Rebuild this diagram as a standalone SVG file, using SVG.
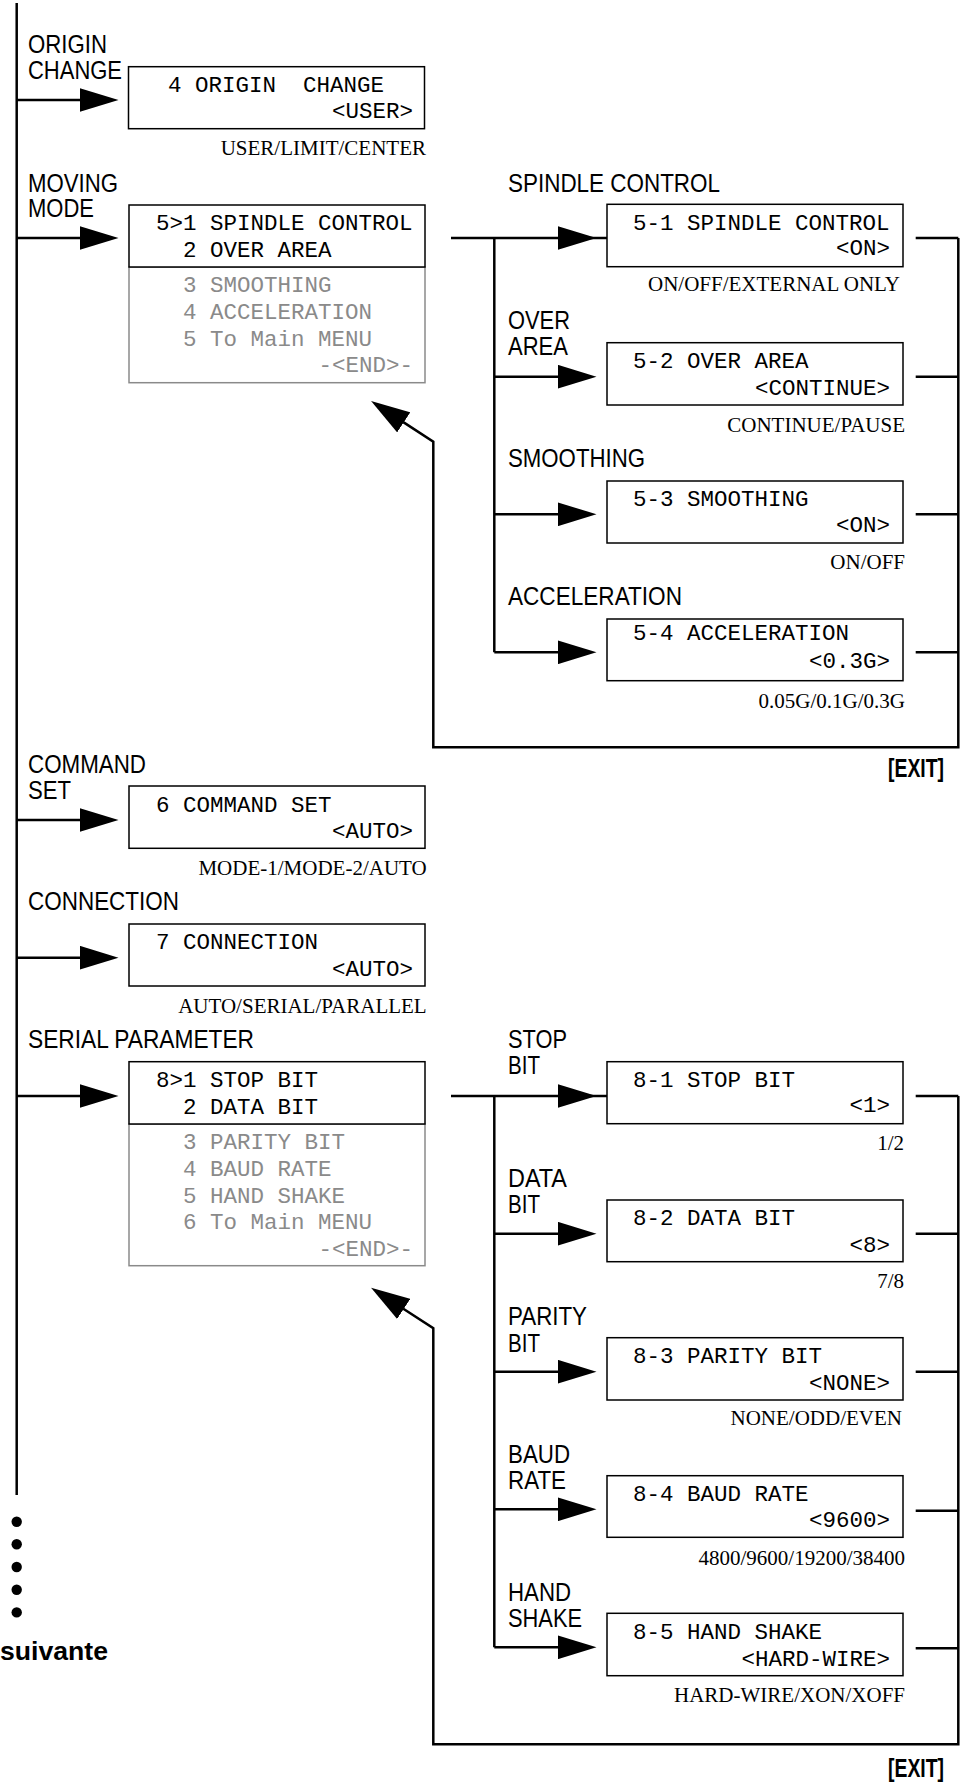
<svg xmlns="http://www.w3.org/2000/svg" width="961" height="1787" viewBox="0 0 961 1787">
<style>
.lbl{font-family:"Liberation Sans",Arial,sans-serif;font-size:25px;fill:#000}
.mono{font-family:"Liberation Mono","Courier New",monospace;font-size:22.5px;fill:#000}
.g{fill:#8a8a8a}
.end{text-anchor:end}
.opt{font-family:"Liberation Serif","Times New Roman",serif;font-size:21px;fill:#000;text-anchor:end}
.exit{font-family:"Liberation Sans",Arial,sans-serif;font-weight:bold;font-size:26px;fill:#000}
.box{fill:#fff;stroke:#000;stroke-width:1.5}
.gbox{fill:#fff;stroke:#8a8a8a;stroke-width:1.5}
.wire{fill:none;stroke:#000;stroke-width:2.5;stroke-linejoin:miter}
.arr{marker-end:url(#ah)}
</style>
<defs>
<marker id="ah" viewBox="0 -12 39 24" markerWidth="39" markerHeight="24" refX="0.5" refY="0" orient="auto" markerUnits="userSpaceOnUse">
<path d="M0,-12 L39,0 L0,12 z" fill="#000"/>
</marker>
</defs>
<rect width="961" height="1787" fill="#fff"/>

<g id="connectors">
<line class="wire" x1="16.7" y1="3" x2="16.7" y2="1495"/>
<line class="wire arr" x1="16.7" y1="100" x2="80" y2="100"/>
<line class="wire arr" x1="16.7" y1="238" x2="80" y2="238"/>
<line class="wire arr" x1="16.7" y1="820" x2="80" y2="820"/>
<line class="wire arr" x1="16.7" y1="957.7" x2="80" y2="957.7"/>
<line class="wire arr" x1="16.7" y1="1096" x2="80" y2="1096"/>

<line class="wire arr" x1="451" y1="238" x2="558" y2="238"/>
<line class="wire" x1="590" y1="238" x2="607" y2="238"/>
<path class="wire" d="M494.3,238 V652.3"/>
<line class="wire arr" x1="494.3" y1="376.7" x2="558" y2="376.7"/>
<line class="wire arr" x1="494.3" y1="514.3" x2="558" y2="514.3"/>
<line class="wire arr" x1="494.3" y1="652.3" x2="558" y2="652.3"/>
<line class="wire" x1="915.7" y1="238" x2="958.3" y2="238"/>
<line class="wire" x1="915.7" y1="376.7" x2="958.3" y2="376.7"/>
<line class="wire" x1="915.7" y1="514.3" x2="958.3" y2="514.3"/>
<line class="wire" x1="915.7" y1="652.3" x2="958.3" y2="652.3"/>
<path class="wire arr" d="M958.3,238 V747.3 H433.3 V441.7 L403.3,422.1"/>

<line class="wire arr" x1="451" y1="1096" x2="558" y2="1096"/>
<line class="wire" x1="590" y1="1096" x2="607" y2="1096"/>
<path class="wire" d="M494.3,1096 V1647.3"/>
<line class="wire arr" x1="494.3" y1="1233.7" x2="558" y2="1233.7"/>
<line class="wire arr" x1="494.3" y1="1371.7" x2="558" y2="1371.7"/>
<line class="wire arr" x1="494.3" y1="1509.3" x2="558" y2="1509.3"/>
<line class="wire arr" x1="494.3" y1="1647.3" x2="558" y2="1647.3"/>
<line class="wire" x1="915.7" y1="1096" x2="958.3" y2="1096"/>
<line class="wire" x1="915.7" y1="1233.7" x2="958.3" y2="1233.7"/>
<line class="wire" x1="915.7" y1="1371.7" x2="958.3" y2="1371.7"/>
<line class="wire" x1="915.7" y1="1510.7" x2="958.3" y2="1510.7"/>
<line class="wire" x1="915.7" y1="1648.3" x2="958.3" y2="1648.3"/>
<path class="wire arr" d="M958.3,1096 V1744.3 H433.3 V1328.3 L403.3,1308.7"/>

<circle cx="16.7" cy="1521.7" r="5.2"/>
<circle cx="16.7" cy="1544.3" r="5.2"/>
<circle cx="16.7" cy="1567" r="5.2"/>
<circle cx="16.7" cy="1589.7" r="5.2"/>
<circle cx="16.7" cy="1612.4" r="5.2"/>
<text class="exit" x="888" y="777.3" textLength="56" lengthAdjust="spacingAndGlyphs">[EXIT]</text>
<text class="exit" x="888" y="1776.7" textLength="56" lengthAdjust="spacingAndGlyphs">[EXIT]</text>
<text class="exit" x="0" y="1660" font-size="31" textLength="108" lengthAdjust="spacingAndGlyphs">suivante</text>
</g>

<g id="n4">
<text class="lbl" x="28" y="53" textLength="79" lengthAdjust="spacingAndGlyphs">ORIGIN</text>
<text class="lbl" x="28" y="79" textLength="94" lengthAdjust="spacingAndGlyphs">CHANGE</text>
<rect class="box" x="128.5" y="66.7" width="296" height="62"/>
<text class="mono" x="168" y="92" xml:space="preserve">4 ORIGIN  CHANGE</text>
<text class="mono end" x="413" y="118">&lt;USER&gt;</text>
<text class="opt" x="426" y="155">USER/LIMIT/CENTER</text>
</g>

<g id="n5">
<text class="lbl" x="28" y="192" textLength="90" lengthAdjust="spacingAndGlyphs">MOVING</text>
<text class="lbl" x="28" y="217" textLength="66" lengthAdjust="spacingAndGlyphs">MODE</text>
<rect class="gbox" x="129" y="267" width="296" height="115.7"/>
<rect class="box" x="129" y="205" width="296" height="62"/>
<text class="mono" x="156" y="230">5&gt;1 SPINDLE CONTROL</text>
<text class="mono" x="183" y="257">2 OVER AREA</text>
<text class="mono g" x="183" y="292">3 SMOOTHING</text>
<text class="mono g" x="183" y="319">4 ACCELERATION</text>
<text class="mono g" x="183" y="346">5 To Main MENU</text>
<text class="mono g end" x="413" y="372">-&lt;END&gt;-</text>
</g>

<g id="n5-1">
<text class="lbl" x="508" y="191.7" textLength="212" lengthAdjust="spacingAndGlyphs">SPINDLE CONTROL</text>
<rect class="box" x="607" y="204.3" width="296" height="62.4"/>
<text class="mono" x="633" y="230">5-1 SPINDLE CONTROL</text>
<text class="mono end" x="890" y="255">&lt;ON&gt;</text>
<text class="opt" x="900" y="290.7">ON/OFF/EXTERNAL ONLY</text>
</g>

<g id="n5-2">
<text class="lbl" x="508" y="329" textLength="62" lengthAdjust="spacingAndGlyphs">OVER</text>
<text class="lbl" x="508" y="355" textLength="60" lengthAdjust="spacingAndGlyphs">AREA</text>
<rect class="box" x="607" y="342.7" width="296" height="62.3"/>
<text class="mono" x="633" y="368.3">5-2 OVER AREA</text>
<text class="mono end" x="890" y="395">&lt;CONTINUE&gt;</text>
<text class="opt" x="905" y="431.7">CONTINUE/PAUSE</text>
</g>

<g id="n5-3">
<text class="lbl" x="508" y="466.7" textLength="137" lengthAdjust="spacingAndGlyphs">SMOOTHING</text>
<rect class="box" x="607" y="481" width="296" height="62"/>
<text class="mono" x="633" y="506">5-3 SMOOTHING</text>
<text class="mono end" x="890" y="531.7">&lt;ON&gt;</text>
<text class="opt" x="905" y="569.3">ON/OFF</text>
</g>

<g id="n5-4">
<text class="lbl" x="508" y="605" textLength="174" lengthAdjust="spacingAndGlyphs">ACCELERATION</text>
<rect class="box" x="607" y="619" width="296" height="61.7"/>
<text class="mono" x="633" y="640">5-4 ACCELERATION</text>
<text class="mono end" x="890" y="668.3">&lt;0.3G&gt;</text>
<text class="opt" x="905" y="708">0.05G/0.1G/0.3G</text>
</g>

<g id="n6">
<text class="lbl" x="28" y="772.7" textLength="118" lengthAdjust="spacingAndGlyphs">COMMAND</text>
<text class="lbl" x="28" y="799" textLength="43" lengthAdjust="spacingAndGlyphs">SET</text>
<rect class="box" x="129" y="786" width="296" height="62.3"/>
<text class="mono" x="156" y="811.7">6 COMMAND SET</text>
<text class="mono end" x="413" y="838.3">&lt;AUTO&gt;</text>
<text class="opt" x="426.7" y="875">MODE-1/MODE-2/AUTO</text>
</g>

<g id="n7">
<text class="lbl" x="28" y="910" textLength="151" lengthAdjust="spacingAndGlyphs">CONNECTION</text>
<rect class="box" x="129" y="924" width="296" height="62"/>
<text class="mono" x="156" y="949.3">7 CONNECTION</text>
<text class="mono end" x="413" y="976">&lt;AUTO&gt;</text>
<text class="opt" x="426.7" y="1012.7">AUTO/SERIAL/PARALLEL</text>
</g>

<g id="n8">
<text class="lbl" x="28" y="1048.3" textLength="226" lengthAdjust="spacingAndGlyphs">SERIAL PARAMETER</text>
<rect class="gbox" x="129" y="1124" width="296" height="141.7"/>
<rect class="box" x="129" y="1061.7" width="296" height="62.3"/>
<text class="mono" x="156" y="1087.3">8&gt;1 STOP BIT</text>
<text class="mono" x="183" y="1114">2 DATA BIT</text>
<text class="mono g" x="183" y="1149">3 PARITY BIT</text>
<text class="mono g" x="183" y="1175.7">4 BAUD RATE</text>
<text class="mono g" x="183" y="1202.7">5 HAND SHAKE</text>
<text class="mono g" x="183" y="1229.3">6 To Main MENU</text>
<text class="mono g end" x="413" y="1256">-&lt;END&gt;-</text>
</g>

<g id="n8-1">
<text class="lbl" x="508" y="1048.3" textLength="59" lengthAdjust="spacingAndGlyphs">STOP</text>
<text class="lbl" x="508" y="1074" textLength="32" lengthAdjust="spacingAndGlyphs">BIT</text>
<rect class="box" x="607" y="1061.7" width="296" height="62"/>
<text class="mono" x="633" y="1086.7">8-1 STOP BIT</text>
<text class="mono end" x="890" y="1111.7">&lt;1&gt;</text>
<text class="opt" x="904" y="1150">1/2</text>
</g>

<g id="n8-2">
<text class="lbl" x="508" y="1186.7" textLength="59" lengthAdjust="spacingAndGlyphs">DATA</text>
<text class="lbl" x="508" y="1212.7" textLength="32" lengthAdjust="spacingAndGlyphs">BIT</text>
<rect class="box" x="607" y="1200" width="296" height="61.7"/>
<text class="mono" x="633" y="1225">8-2 DATA BIT</text>
<text class="mono end" x="890" y="1251.7">&lt;8&gt;</text>
<text class="opt" x="904" y="1288.3">7/8</text>
</g>

<g id="n8-3">
<text class="lbl" x="508" y="1325" textLength="79" lengthAdjust="spacingAndGlyphs">PARITY</text>
<text class="lbl" x="508" y="1351.7" textLength="32" lengthAdjust="spacingAndGlyphs">BIT</text>
<rect class="box" x="607" y="1337.7" width="296" height="62.3"/>
<text class="mono" x="633" y="1363.3">8-3 PARITY BIT</text>
<text class="mono end" x="890" y="1390">&lt;NONE&gt;</text>
<text class="opt" x="902" y="1425">NONE/ODD/EVEN</text>
</g>

<g id="n8-4">
<text class="lbl" x="508" y="1462.7" textLength="62" lengthAdjust="spacingAndGlyphs">BAUD</text>
<text class="lbl" x="508" y="1489.3" textLength="58" lengthAdjust="spacingAndGlyphs">RATE</text>
<rect class="box" x="607" y="1475.7" width="296" height="61.6"/>
<text class="mono" x="633" y="1500.7">8-4 BAUD RATE</text>
<text class="mono end" x="890" y="1526.7">&lt;9600&gt;</text>
<text class="opt" x="905" y="1565">4800/9600/19200/38400</text>
</g>

<g id="n8-5">
<text class="lbl" x="508" y="1600.7" textLength="63" lengthAdjust="spacingAndGlyphs">HAND</text>
<text class="lbl" x="508" y="1627.3" textLength="74" lengthAdjust="spacingAndGlyphs">SHAKE</text>
<rect class="box" x="607" y="1613.3" width="296" height="62.4"/>
<text class="mono" x="633" y="1639.3">8-5 HAND SHAKE</text>
<text class="mono end" x="890" y="1665.7">&lt;HARD-WIRE&gt;</text>
<text class="opt" x="905" y="1702.3">HARD-WIRE/XON/XOFF</text>
</g>
</svg>
